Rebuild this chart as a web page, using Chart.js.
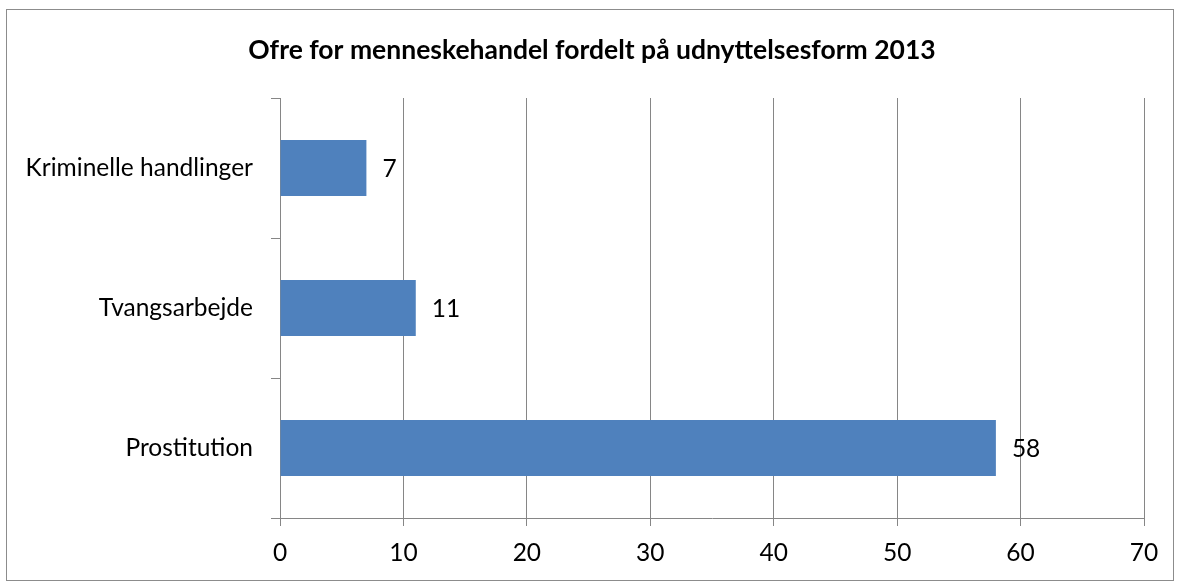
<!DOCTYPE html>
<html>
<head>
<meta charset="utf-8">
<script src="https://cdn.jsdelivr.net/npm/chart.js@4"></script>
<style>
  html, body { margin: 0; padding: 0; background: #fff; }
  #frame { position: absolute; left: 6px; top: 9px; width: 1166px; height: 570px; border: 1px solid #8c8c8c; }
  #frame canvas { display: block; }
</style>
</head>
<body>
<div id="frame"><canvas id="c" width="1166" height="570"></canvas></div>
<script>
const chartTitle = 'Ofre for menneskehandel fordelt på udnyttelsesform 2013';
const categories = ['Kriminelle handlinger', 'Tvangsarbejde', 'Prostitution'];
const values = [7, 11, 58];
const xTicks = [0, 10, 20, 30, 40, 50, 60, 70];

const FONT = 'Lato, "Open Sans", sans-serif';
const GRID = '#868686';

const valueLabels = {
  id: 'valueLabels',
  afterDatasetsDraw(chart) {
    const ctx = chart.ctx;
    const meta = chart.getDatasetMeta(0);
    ctx.save();
    ctx.font = '24.5px ' + FONT;
    ctx.fillStyle = '#000';
    ctx.textAlign = 'left';
    ctx.textBaseline = 'middle';
    meta.data.forEach((bar, i) => {
      ctx.fillText(String(values[i]), bar.x + 16, bar.y + 1);
    });
    ctx.restore();
  }
};

const centeredTitle = {
  id: 'centeredTitle',
  afterDraw(chart) {
    const ctx = chart.ctx;
    ctx.save();
    ctx.font = 'bold 26.5px ' + FONT;
    ctx.fillStyle = '#000';
    ctx.textAlign = 'center';
    ctx.textBaseline = 'middle';
    ctx.fillText(chartTitle, chart.width / 2 + 2, 40);
    ctx.restore();
  }
};

new Chart(document.getElementById('c'), {
  type: 'bar',
  data: {
    labels: categories,
    datasets: [{
      data: values,
      backgroundColor: '#4F81BD',
      borderWidth: 0,
      categoryPercentage: 0.4,
      barPercentage: 1.0
    }]
  },
  options: {
    indexAxis: 'y',
    responsive: false,
    animation: false,
    layout: { padding: { left: 0, right: 29, top: 88, bottom: 0 } },
    plugins: {
      legend: { display: false },
      tooltip: { enabled: false },
      title: { display: false }
    },
    scales: {
      x: {
        min: xTicks[0],
        max: xTicks[xTicks.length - 1],
        afterBuildTicks(scale) { scale.ticks = xTicks.map(v => ({ value: v })); },
        afterFit(scale) { scale.height = 62; },
        grid: { color: GRID, lineWidth: 1, tickLength: 8, drawOnChartArea: true },
        border: { color: GRID, width: 1 },
        ticks: { color: '#000', font: { family: FONT, size: 24.5 }, padding: 12 }
      },
      y: {
        afterFit(scale) { scale.width = 273; },
        grid: { color: GRID, lineWidth: 1, tickLength: 9, drawOnChartArea: false, offset: true },
        border: { color: GRID, width: 1 },
        ticks: { color: '#000', font: { family: FONT, size: 24.5 }, padding: 18 }
      }
    }
  },
  plugins: [valueLabels, centeredTitle]
});
</script>
</body>
</html>
